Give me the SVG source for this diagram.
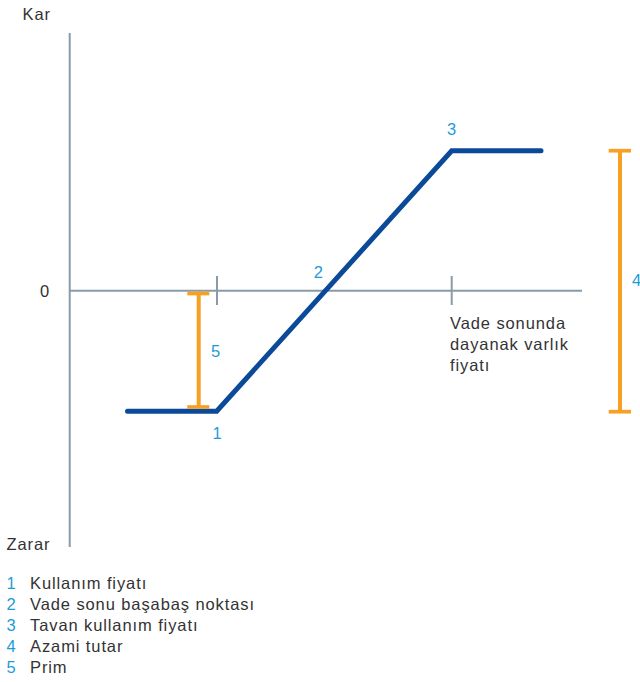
<svg xmlns="http://www.w3.org/2000/svg" width="640" height="682" viewBox="0 0 640 682">
<style>
.t{font-family:"Liberation Sans",Arial,sans-serif;font-size:16.5px;letter-spacing:0.9px;fill:#333333}
.n{font-family:"Liberation Sans",Arial,sans-serif;font-size:16.5px;fill:#1e9bd7}
.ax{stroke:#8a9ba8;stroke-width:2;fill:none}
.or{stroke:#f7a024;fill:none}
</style>
<rect width="640" height="682" fill="#ffffff"/>
<g id="axes">
<line class="ax" x1="69.7" y1="33" x2="69.7" y2="547"/>
<line class="ax" x1="69" y1="290.7" x2="582" y2="290.7"/>
<line class="ax" x1="217" y1="276" x2="217" y2="305"/>
<line class="ax" x1="451.7" y1="276" x2="451.7" y2="305"/>
</g>
<g id="axis-labels">
<text class="t" x="22.5" y="19.5">Kar</text>
<text class="t" x="40" y="297">0</text>
<text class="t" x="6.5" y="549.5">Zarar</text>
<text class="t" x="450" y="329">Vade sonunda</text>
<text class="t" x="450" y="350">dayanak varlık</text>
<text class="t" x="450" y="371">fiyatı</text>
</g>
<g id="payoff">
<polyline points="127.5,411.2 216.7,411.2 451.7,150.8 541,150.8" fill="none" stroke="#0b4a99" stroke-width="5" stroke-linecap="round" stroke-linejoin="miter"/>
</g>
<g id="premium">
<line class="or" x1="198.7" y1="293.5" x2="198.7" y2="407" stroke-width="4"/>
<line class="or" x1="187.3" y1="293.5" x2="209.3" y2="293.5" stroke-width="3.7"/>
<line class="or" x1="187.3" y1="407" x2="209.3" y2="407" stroke-width="3.7"/>
</g>
<g id="max-amount">
<line class="or" x1="620" y1="150.7" x2="620" y2="411.7" stroke-width="4"/>
<line class="or" x1="608.7" y1="150.7" x2="631" y2="150.7" stroke-width="3.7"/>
<line class="or" x1="608.7" y1="411.7" x2="631" y2="411.7" stroke-width="3.7"/>
</g>
<g id="markers">
<text class="n" x="217" y="438.5" text-anchor="middle">1</text>
<text class="n" x="318.3" y="278.3" text-anchor="middle">2</text>
<text class="n" x="451.7" y="135" text-anchor="middle">3</text>
<text class="n" x="632" y="286">4</text>
<text class="n" x="211" y="357">5</text>
</g>
<g id="legend">
<text class="n" x="6.5" y="588.5">1</text>
<text class="t" x="30" y="588.5">Kullanım fiyatı</text>
<text class="n" x="6.5" y="609.5">2</text>
<text class="t" x="30" y="609.5">Vade sonu başabaş noktası</text>
<text class="n" x="6.5" y="630.5">3</text>
<text class="t" x="30" y="630.5">Tavan kullanım fiyatı</text>
<text class="n" x="6.5" y="651.5">4</text>
<text class="t" x="30" y="651.5">Azami tutar</text>
<text class="n" x="6.5" y="672.5">5</text>
<text class="t" x="30" y="672.5">Prim</text>
</g>
</svg>
